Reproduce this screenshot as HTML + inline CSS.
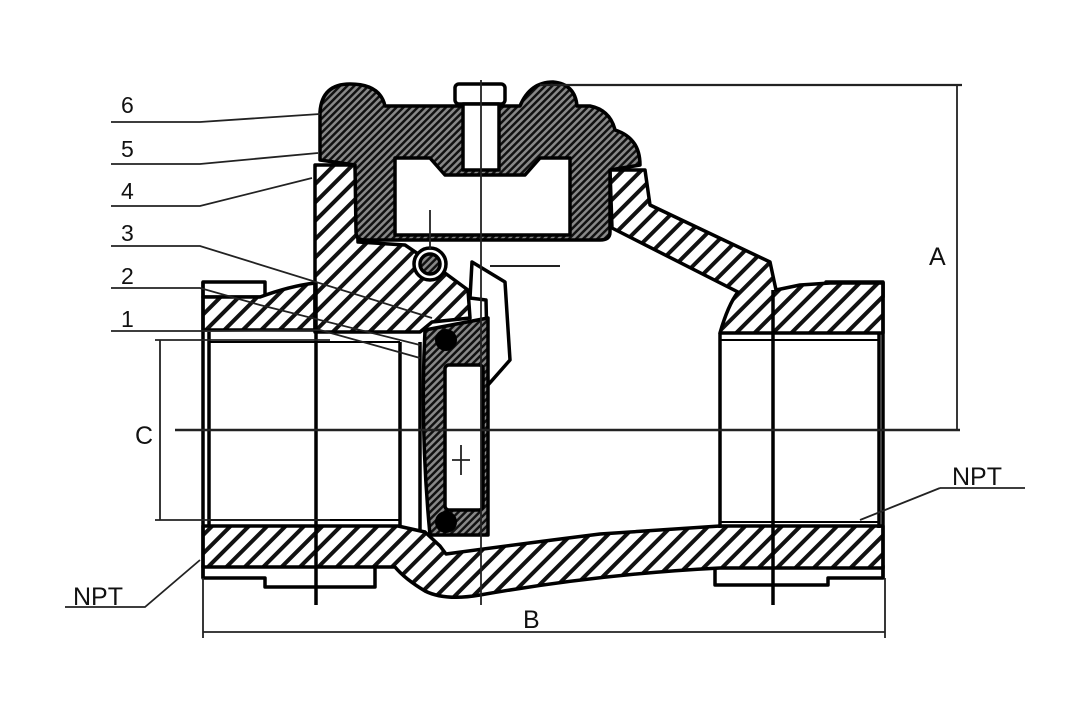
<!DOCTYPE html>
<html><head><meta charset="utf-8"><style>
html,body{margin:0;padding:0;background:#fff;width:1082px;height:710px;overflow:hidden}
svg{display:block}
text{font-family:"Liberation Sans",sans-serif;fill:#111}
</style></head><body>
<svg width="1082" height="710" viewBox="0 0 1082 710" xmlns="http://www.w3.org/2000/svg">
<defs>
<pattern id="h" patternUnits="userSpaceOnUse" width="13" height="13" patternTransform="rotate(45)">
<rect width="13" height="13" fill="#fff"/><rect x="0" y="0" width="4" height="13" fill="#111"/>
</pattern>
<pattern id="d" patternUnits="userSpaceOnUse" width="5" height="5" patternTransform="rotate(45)">
<rect width="5" height="5" fill="#888"/><rect x="0" y="0" width="2.5" height="5" fill="#111"/>
</pattern>
</defs>
<g stroke="#000" stroke-width="3.5" stroke-linejoin="round">
<rect x="203" y="282" width="62" height="15" fill="#fff"/>
<path d="M203,566 L203,578 L265,578 L265,587 L375,587 L375,566 Z" fill="#fff"/>
<rect x="826" y="282" width="57" height="15" fill="#fff"/>
<path d="M715,566 L715,585 L828,585 L828,578 L883,578 L883,566 Z" fill="#fff"/>
<path d="M203,297 L260,297 Q290,286 315,283 L315,330 L203,330 Z" fill="url(#h)"/>
<path d="M315,165 L355,165 L358,242 L405,245 L430,262 L468,290 L470,318 L432,322 L420,332 L315,332 Z" fill="url(#h)"/>
<path d="M610,170 L645,170 L650,205 L770,262 L776,290 L800,285 L830,283 L883,283 L883,333 L720,333 Q728,305 738,292 L612,228 Z" fill="url(#h)"/>
<path d="M203,526 L398,526 L425,532 L440,546 L446,554 Q520,544 600,534 L720,526 L883,526 L883,568 L720,568 Q600,574 480,595 Q445,601 425,591 Q405,579 395,567 L203,567 Z" fill="url(#h)"/>
<path d="M320,112 Q322,84 350,84 Q380,84 385,106 L520,106 Q530,82 553,82 Q575,84 577,106 L590,106 Q610,110 615,130 Q640,138 640,165 L610,170 L610,232 Q610,240 600,240 L365,240 Q356,240 356,232 L355,165 L320,160 Z" fill="url(#d)"/>
<path d="M395,158 L430,158 L445,175 L525,175 L540,158 L570,158 L570,235 L395,235 Z" fill="#fff"/>
<rect x="455" y="84" width="50" height="20" rx="4" fill="#fff"/>
<rect x="463" y="104" width="36" height="66" fill="#fff"/>
<circle cx="430" cy="264" r="16" fill="#fff"/>
<circle cx="430" cy="264" r="10" fill="url(#d)"/>
<path d="M472,262 L505,282 L510,360 L488,385 L486,300 L470,298 Z" fill="#fff"/>
<path d="M425,330 L488,318 L488,535 L430,535 Q420,430 425,330 Z" fill="url(#d)"/>
<rect x="445" y="365" width="38" height="145" rx="4" fill="#fff"/>
</g>
<circle cx="446" cy="340" r="11" fill="#000"/>
<circle cx="446" cy="522" r="11" fill="#000"/>
<g stroke="#000" stroke-width="3.5" fill="none">
<line x1="203" y1="282" x2="203" y2="578"/>
<line x1="209" y1="332" x2="209" y2="527"/>
<line x1="316" y1="283" x2="316" y2="605"/>
<line x1="400" y1="342" x2="400" y2="527"/>
<line x1="420" y1="342" x2="420" y2="530"/>
<line x1="720" y1="333" x2="720" y2="528"/>
<line x1="773" y1="290" x2="773" y2="605"/>
<line x1="879" y1="333" x2="879" y2="528"/>
<line x1="883" y1="282" x2="883" y2="578"/>
<line x1="209" y1="342" x2="400" y2="342" stroke-width="2"/>
<line x1="209" y1="520" x2="400" y2="520" stroke-width="2"/>
<line x1="720" y1="340" x2="879" y2="340" stroke-width="2"/>
<line x1="720" y1="522" x2="879" y2="522" stroke-width="2"/>
</g>
<g stroke="#222" stroke-width="1.8" fill="none">
<line x1="481" y1="80" x2="481" y2="605"/>
<line x1="175" y1="430" x2="960" y2="430" stroke-width="2.5"/>
<line x1="430" y1="210" x2="430" y2="250"/>
<line x1="490" y1="266" x2="560" y2="266" stroke-width="2"/>
<line x1="452" y1="460" x2="470" y2="460"/><line x1="461" y1="445" x2="461" y2="475"/>
<line x1="540" y1="85" x2="962" y2="85" stroke-width="2.2"/>
<line x1="957" y1="85" x2="957" y2="430"/>
<line x1="155" y1="340" x2="330" y2="340"/>
<line x1="155" y1="520" x2="330" y2="520"/>
<line x1="160" y1="340" x2="160" y2="520"/>
<line x1="203" y1="578" x2="203" y2="638"/>
<line x1="885" y1="578" x2="885" y2="638"/>
<line x1="203" y1="632" x2="885" y2="632"/>
<polyline points="111,122 200,122 320,114"/>
<polyline points="111,164 200,164 318,153"/>
<polyline points="111,206 200,206 312,178"/>
<polyline points="111,246 200,246 432,318"/>
<polyline points="111,288 200,288 260,305 420,345"/>
<polyline points="111,331 200,331 320,330 420,358"/>
<polyline points="940,488 1025,488"/>
<polyline points="940,488 860,520"/>
<polyline points="65,607 145,607 200,560"/>
</g>
<g font-size="23">
<text x="121" y="113">6</text>
<text x="121" y="157">5</text>
<text x="121" y="199">4</text>
<text x="121" y="241">3</text>
<text x="121" y="284">2</text>
<text x="121" y="327">1</text>
<text x="952" y="485" font-size="25">NPT</text>
<text x="73" y="605" font-size="25">NPT</text>
<text x="929" y="265" font-size="25">A</text>
<text x="523" y="628" font-size="25">B</text>
<text x="135" y="444" font-size="25">C</text>
</g>
</svg>
</body></html>
